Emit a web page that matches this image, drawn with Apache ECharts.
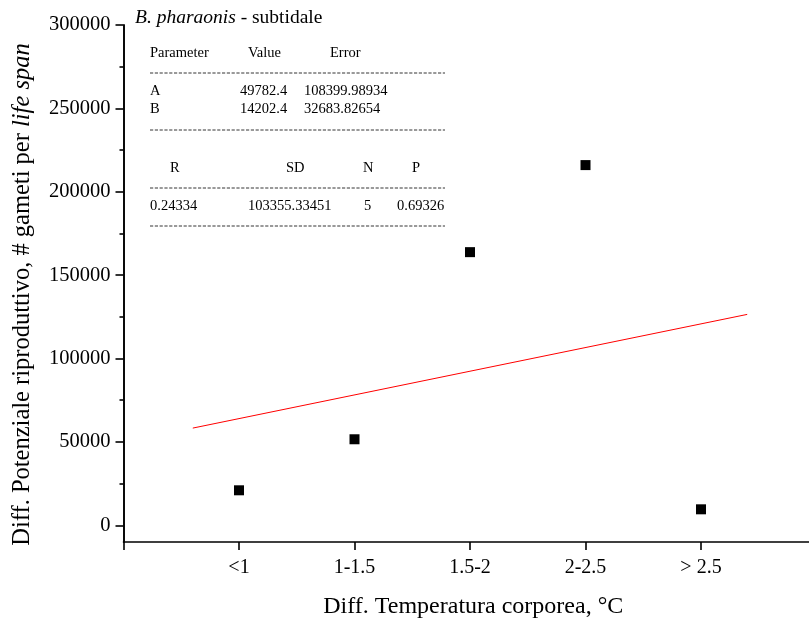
<!DOCTYPE html>
<html>
<head>
<meta charset="utf-8">
<style>
  html, body { margin: 0; padding: 0; background: #fff; }
  #chart { width: 809px; height: 621px; }
</style>
<script src="https://cdn.jsdelivr.net/npm/echarts@6/dist/echarts.min.js"></script>
</head>
<body>
<div id="chart"></div>
<script>
// Temperature-difference classes and measured differences in reproductive potential
const categories = ['<1', '1-1.5', '1.5-2', '2-2.5', '> 2.5'];
const gametes = [21000, 51600, 163800, 216000, 9600];

// Linear fit Y = A + B*X (X = class index 1..5)
const fitA = 49782.4;
const fitB = 14202.4;
const fitRange = [0.6, 5.4];

const xTicks = [0, 1, 2, 3, 4, 5];
const yMajorTicks = [0, 50000, 100000, 150000, 200000, 250000, 300000];
const yMinorTicks = [25000, 75000, 125000, 175000, 225000, 275000];

// Fit summary table
const paramHeader = ['Parameter', 'Value', 'Error'];
const paramRows = [['A', '49782.4', '108399.98934'], ['B', '14202.4', '32683.82654']];
const statHeader = ['R', 'SD', 'N', 'P'];
const statRow = ['0.24334', '103355.33451', '5', '0.69326'];

const FONT = '"Liberation Serif", "DejaVu Serif", serif';

const fitLine = fitRange.map(x => [x, fitA + fitB * x]);
const points = gametes.map((v, i) => [i + 1, v]);

const chart = echarts.init(document.getElementById('chart'), null, { renderer: 'canvas' });

function tableText(x, y, s) {
  return { type: 'text', x: x, y: y, style: { text: s, font: '14.5px ' + FONT, fill: '#000', textVerticalAlign: 'middle' } };
}
function dashRule(y) {
  return { type: 'line', shape: { x1: 150, y1: y, x2: 445, y2: y }, style: { stroke: '#000', lineWidth: 0.8, lineDash: [3.2, 1.6] } };
}

const tableEls = [
  tableText(150, 53, paramHeader[0]), tableText(248, 53, paramHeader[1]), tableText(330, 53, paramHeader[2]),
  dashRule(73),
  tableText(150, 91, paramRows[0][0]), tableText(240, 91, paramRows[0][1]), tableText(304, 91, paramRows[0][2]),
  tableText(150, 109, paramRows[1][0]), tableText(240, 109, paramRows[1][1]), tableText(304, 109, paramRows[1][2]),
  dashRule(130),
  tableText(170, 168, statHeader[0]), tableText(286, 168, statHeader[1]), tableText(363, 168, statHeader[2]), tableText(412, 168, statHeader[3]),
  dashRule(188),
  tableText(150, 206, statRow[0]), tableText(248, 206, statRow[1]), tableText(364, 206, statRow[2]), tableText(397, 206, statRow[3]),
  dashRule(226)
];

const yAxisCommon = {
  type: 'value', min: -10000, max: 300000, position: 'left',
  splitLine: { show: false },
  axisLine: { show: true, lineStyle: { color: '#000', width: 1.6 } }
};

chart.setOption({
  backgroundColor: '#fff',
  animation: false,
  grid: { left: 123.5, right: 0, top: 25, bottom: 79, containLabel: false, outerBoundsMode: 'none' },
  xAxis: {
    type: 'value', min: 0, max: 5.935,
    axisLine: { show: true, onZero: false, lineStyle: { color: '#000', width: 1.6 } },
    axisTick: { show: true, length: 8, customValues: xTicks, lineStyle: { color: '#000', width: 1.6 } },
    splitLine: { show: false },
    axisLabel: {
      customValues: xTicks,
      color: '#000', fontFamily: FONT, fontSize: 20, margin: 16,
      formatter: v => categories[Math.round(v) - 1] || ''
    },
    name: 'Diff. Temperatura corporea, °C',
    nameLocation: 'middle', nameGap: 53,
    nameTextStyle: { color: '#000', fontFamily: FONT, fontSize: 24, padding: [0, 0, 0, 14] }
  },
  yAxis: [
    Object.assign({}, yAxisCommon, {
      axisTick: { show: true, length: 8, customValues: yMajorTicks, lineStyle: { color: '#000', width: 1.6 } },
      axisLabel: { show: true, customValues: yMajorTicks, color: '#000', fontFamily: FONT, fontSize: 20.5, margin: 13, formatter: v => String(v) },
      name: '{n|Diff. Potenziale riproduttivo, # gameti per }{i|life span}',
      nameLocation: 'middle', nameGap: 88, nameRotate: 90,
      nameTextStyle: {
        padding: [0, 22, 0, 0],
        rich: {
          n: { fontFamily: FONT, fontSize: 24.5, color: '#000' },
          i: { fontFamily: FONT, fontSize: 24.5, color: '#000', fontStyle: 'italic' }
        }
      }
    }),
    Object.assign({}, yAxisCommon, {
      axisTick: { show: true, length: 4, customValues: yMinorTicks, lineStyle: { color: '#000', width: 1.6 } },
      axisLabel: { show: false }
    })
  ],
  graphic: [
    {
      type: 'text', x: 135, y: 18,
      style: {
        text: '{i|B. pharaonis}{n| - subtidale}',
        textVerticalAlign: 'middle',
        rich: {
          i: { fontFamily: FONT, fontSize: 19.5, fontStyle: 'italic', fill: '#000' },
          n: { fontFamily: FONT, fontSize: 19.5, fill: '#000' }
        }
      }
    },
    { type: 'group', children: tableEls }
  ],
  series: [
    {
      type: 'line', data: fitLine, yAxisIndex: 0,
      symbol: 'none', silent: true,
      lineStyle: { color: '#ff0000', width: 1 }
    },
    {
      type: 'scatter', data: points, yAxisIndex: 0,
      symbol: 'rect', symbolSize: 10,
      itemStyle: { color: '#000', opacity: 1 }
    }
  ]
});
</script>
</body>
</html>
